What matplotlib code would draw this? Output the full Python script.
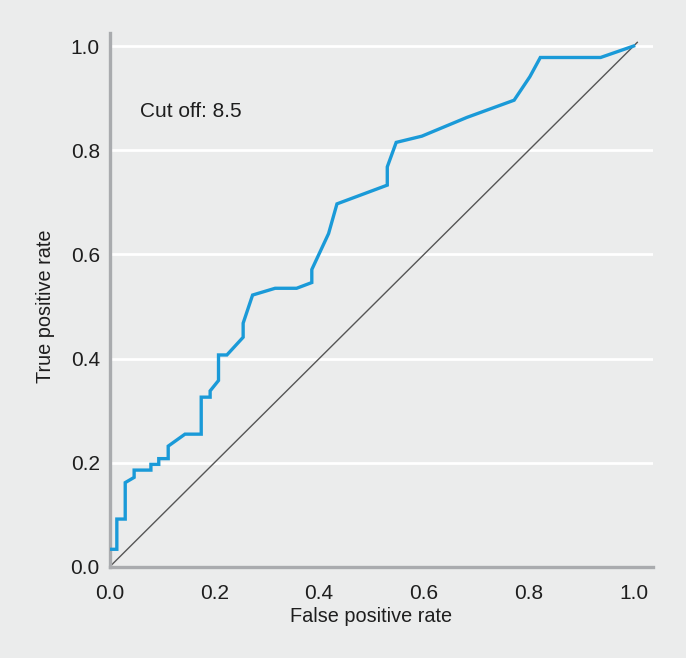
import matplotlib
matplotlib.use("Agg")
import matplotlib.pyplot as plt

fpr = [0.0, 0.014, 0.014, 0.030, 0.030, 0.047, 0.047, 0.079, 0.079, 0.094, 0.094,
       0.112, 0.112, 0.144, 0.175, 0.175, 0.192, 0.192, 0.208, 0.208, 0.224, 0.255,
       0.255, 0.273, 0.316, 0.357, 0.386, 0.386, 0.418, 0.434, 0.530, 0.530, 0.547,
       0.596, 0.682, 0.772, 0.802, 0.822, 0.937, 1.0]
tpr = [0.034, 0.034, 0.092, 0.092, 0.162, 0.172, 0.186, 0.186, 0.197, 0.197, 0.208,
       0.208, 0.232, 0.255, 0.255, 0.326, 0.326, 0.338, 0.358, 0.407, 0.407, 0.441,
       0.468, 0.522, 0.535, 0.535, 0.546, 0.571, 0.640, 0.697, 0.733, 0.768, 0.815,
       0.827, 0.863, 0.896, 0.941, 0.978, 0.978, 1.0]
ref_line = [0.0, 1.008]
ticks = [0.0, 0.2, 0.4, 0.6, 0.8, 1.0]
tick_labels = ["0.0", "0.2", "0.4", "0.6", "0.8", "1.0"]
annotation = "Cut off: 8.5"

plt.rcParams['font.family'] = ['Liberation Sans', 'DejaVu Sans']

bg = "#ebecec"
txt = "#1e1e1e"
fig = plt.figure(figsize=(6.86, 6.58), dpi=100, facecolor=bg)
ax = fig.add_axes([109.5 / 686, 1 - 567 / 658, (653 - 109.5) / 686, (567 - 33) / 658])
ax.set_facecolor(bg)

XMAX, YMAX = 1.037, 1.025
ax.set_xlim(0, XMAX)
ax.set_ylim(0, YMAX)

for t in ticks[1:]:
    ax.axhline(t, color="white", lw=2.0, zorder=1)

ax.plot(ref_line, ref_line, color="#555555", lw=1.0, zorder=2, solid_capstyle="butt")
ax.plot(fpr, tpr, color="#1a9ad8", lw=2.4, zorder=3, solid_joinstyle="miter")

for s in ["top", "right"]:
    ax.spines[s].set_visible(False)
for s in ["left", "bottom"]:
    ax.spines[s].set_color("#a9abae")
    ax.spines[s].set_linewidth(2.4)

ax.set_xticks(ticks)
ax.set_xticklabels(tick_labels)
ax.set_yticks(ticks)
ax.set_yticklabels(tick_labels)
ax.tick_params(length=0, labelsize=15, colors=txt)
ax.tick_params(axis="y", pad=7)
ax.tick_params(axis="x", pad=12)

ax.set_xlabel("False positive rate", fontsize=14.3, color=txt)
ax.set_ylabel("True positive rate", fontsize=14.3, color=txt)
ax.xaxis.set_label_coords(0.5 / XMAX, -0.074)
ax.yaxis.set_label_coords(-0.101, 0.5 / YMAX)

ax.text(0.058, 0.875, annotation, fontsize=15, color=txt, va="center", ha="left")

fig.savefig("out.png", dpi=100, facecolor=bg)
